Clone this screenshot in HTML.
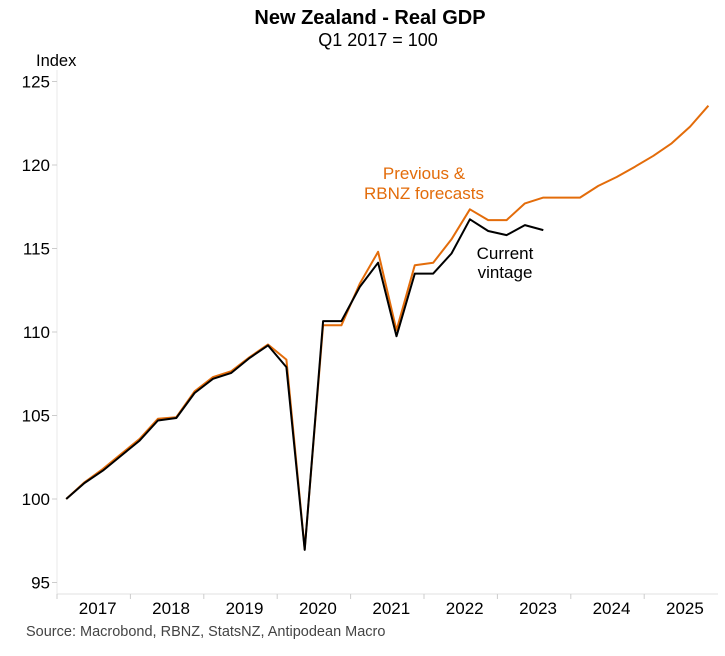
<!DOCTYPE html>
<html><head><meta charset="utf-8"><style>
body{margin:0;background:#fff;}
svg text{font-family:"Liberation Sans",Arial,sans-serif;}
</style></head><body>
<svg id="chart" width="725" height="651" xmlns="http://www.w3.org/2000/svg">
<text x="370" y="24" text-anchor="middle" font-size="20" font-weight="bold" fill="#000">New Zealand - Real GDP</text>
<text x="378" y="46" text-anchor="middle" font-size="18" fill="#000">Q1 2017 = 100</text>
<text x="36" y="66" font-size="16.5" fill="#000">Index</text>
<line x1="57" y1="70" x2="57" y2="594" stroke="#e8e8e8" stroke-width="1"/>
<line x1="57" y1="594" x2="718" y2="594" stroke="#e0e0e0" stroke-width="1"/>
<g id="yaxis"></g>
<g id="xaxis"></g>
<g id="series"></g>
<text x="424" y="179" text-anchor="middle" font-size="17" fill="#e36c0a">Previous &amp;</text>
<text x="424" y="199" text-anchor="middle" font-size="17" fill="#e36c0a">RBNZ forecasts</text>
<text x="505" y="259" text-anchor="middle" font-size="17" fill="#000">Current</text>
<text x="505" y="278" text-anchor="middle" font-size="17" fill="#000">vintage</text>
<text x="26" y="636" font-size="14.5" fill="#444">Source: Macrobond, RBNZ, StatsNZ, Antipodean Macro</text>
</svg>
<script>
const years = ["2017","2018","2019","2020","2021","2022","2023","2024","2025"];
const yTicks = [95,100,105,110,115,120,125];
const previousSeries = [100,101,101.8,102.7,103.6,104.8,104.9,106.45,107.3,107.65,108.5,109.25,108.35,97.0,110.4,110.4,112.9,114.8,110.1,114.0,114.15,115.55,117.35,116.7,116.7,117.7,118.05,118.05,118.05,118.75,119.28,119.9,120.55,121.3,122.3,123.55];
const currentSeries = [100,100.96,101.7,102.6,103.5,104.7,104.85,106.35,107.2,107.55,108.45,109.2,107.9,96.95,110.65,110.65,112.7,114.15,109.75,113.5,113.5,114.7,116.75,116.05,115.8,116.4,116.1];

const NS="http://www.w3.org/2000/svg";
const x0=57, qStep=18.35;
function xq(i){return x0+qStep*(i+0.5);}
function yv(v){return 499-(v-100)*16.7;}
function mk(tag,attrs,parent){const e=document.createElementNS(NS,tag);for(const k in attrs)e.setAttribute(k,attrs[k]);parent.appendChild(e);return e;}

const ya=document.getElementById('yaxis');
yTicks.forEach(t=>{
  const l=mk('line',{x1:52,x2:57,y1:yv(t),y2:yv(t),stroke:'#ccc'},ya);
  
  
  const tx=mk('text',{x:50,y:yv(t)+6,'text-anchor':'end','font-size':17,fill:'#000'},ya);
  tx.textContent=t;
  
  
});
const xa=document.getElementById('xaxis');
years.forEach((y,i)=>{
  const xs=x0+i*4*qStep;
  const l=mk('line',{x1:xs,x2:xs,y1:594,y2:599,stroke:'#ccc'},xa);
  
  
  const tx=mk('text',{x:xs+2*qStep+4,y:614,'text-anchor':'middle','font-size':17,fill:'#000'},xa);
  tx.textContent=y;
  
  
});
const sg=document.getElementById('series');
function pts(a){return a.map((v,i)=>xq(i).toFixed(1)+','+yv(v).toFixed(1)).join(' ');}
const p1=mk('polyline',{points:pts(previousSeries),fill:'none',stroke:'#e36c0a','stroke-width':2,'stroke-linejoin':'round'},sg);


const p2=mk('polyline',{points:pts(currentSeries),fill:'none',stroke:'#000','stroke-width':2,'stroke-linejoin':'round'},sg);


</script>
</body></html>
